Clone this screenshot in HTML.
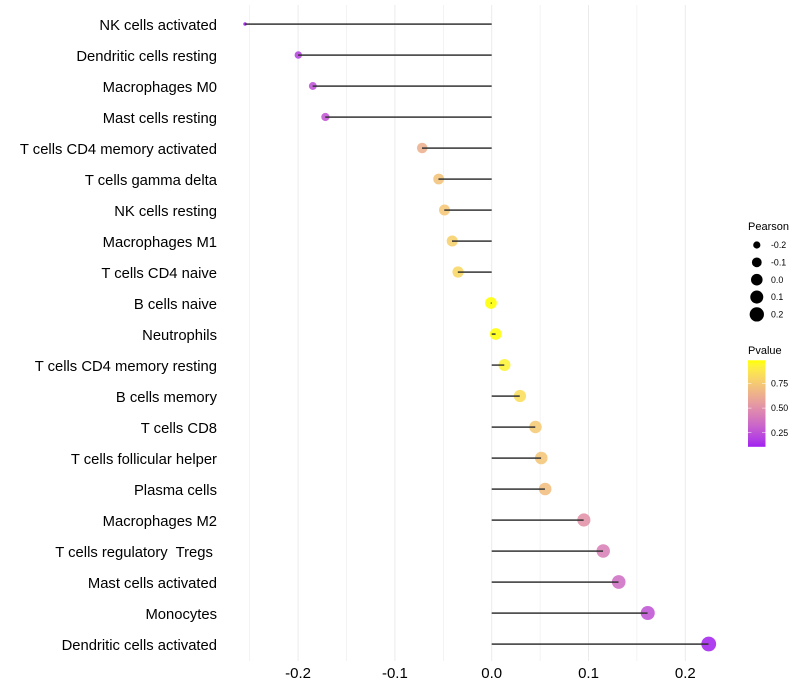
<!DOCTYPE html>
<html>
<head>
<meta charset="utf-8">
<title>Lollipop chart</title>
<style>
html,body{margin:0;padding:0;background:#fff;width:800px;height:700px;overflow:hidden}
svg{display:block;position:absolute;left:0;top:0}
text{font-family:"Liberation Sans",sans-serif;fill:#000}
.lab{position:absolute;font-family:"Liberation Sans",sans-serif;font-size:15px;line-height:20px;height:20px;color:#000;white-space:pre}
.ylab{right:583px;text-align:right;font-size:14.8px}
.xlab{width:60px;text-align:center}
</style>
</head>
<body>
<svg id="chart" width="800" height="700" viewBox="0 0 800 700" xmlns="http://www.w3.org/2000/svg">
  <defs>
    <linearGradient id="pvalue-gradient" x1="0" y1="1" x2="0" y2="0"></linearGradient>
  </defs>
  <g id="grid"></g>
  <g id="points"></g>
  <g id="stems"></g>
  <g id="size-legend">
    <text x="748" y="230" font-size="11">Pearson</text>
  </g>
  <g id="color-legend">
    <text x="748" y="354" font-size="11">Pvalue</text>
    <rect x="748" y="360.3" width="17.5" height="86.5" fill="url(#pvalue-gradient)"></rect>
  </g>
</svg>
<div id="xlabels"></div>
<div id="ylabels"></div>
<script>
const categories = ["NK cells activated","Dendritic cells resting","Macrophages M0","Mast cells resting","T cells CD4 memory activated","T cells gamma delta","NK cells resting","Macrophages M1","T cells CD4 naive","B cells naive","Neutrophils","T cells CD4 memory resting","B cells memory","T cells CD8","T cells follicular helper","Plasma cells","Macrophages M2","T cells regulatory  Tregs ","Mast cells activated","Monocytes","Dendritic cells activated"];
const pearson = [-0.255,-0.2,-0.185,-0.172,-0.072,-0.055,-0.049,-0.041,-0.035,-0.001,0.004,0.013,0.029,0.045,0.051,0.055,0.095,0.115,0.131,0.161,0.224];
const pvalue = [0.11,0.2,0.25,0.27,0.64,0.72,0.74,0.78,0.81,0.99,0.98,0.93,0.84,0.75,0.73,0.7,0.51,0.43,0.36,0.26,0.12];
const xMajorTicks = [-0.2,-0.1,0,0.1,0.2];
const xMinorTicks = [-0.25,-0.15,-0.05,0.05,0.15];
const xTickLabels = ["-0.2","-0.1","0.0","0.1","0.2"];
const sizeLegendValues = [-0.2,-0.1,0,0.1,0.2];
const sizeLegendLabels = ["-0.2","-0.1","0.0","0.1","0.2"];
const colorLegendValues = [0.25,0.5,0.75];
const colorLegendLabels = ["0.25","0.50","0.75"];

const NS = "http://www.w3.org/2000/svg";
function mk(tag, attrs, parent, txt) {
  const el = document.createElementNS(NS, tag);
  for (const k in attrs) el.setAttribute(k, attrs[k]);
  if (txt !== undefined) el.textContent = txt;
  parent.appendChild(el);
  return el;
}
const xScale = v => 491.7 + v * 968;
const yScale = i => 24 + i * 31;
const sizeMin = Math.min(...pearson), sizeMax = Math.max(...pearson);
const rScale = v => 1.8 + 5.6 * Math.sqrt(Math.max(0, (v - sizeMin) / (sizeMax - sizeMin)));
const pTop = 0.985, pBottom = 0.107;

function srgb2lab(c) {
  const f = u => { u /= 255; return u <= 0.04045 ? u / 12.92 : Math.pow((u + 0.055) / 1.055, 2.4); };
  const R = f(c[0]), G = f(c[1]), B = f(c[2]);
  const X = (0.4124 * R + 0.3576 * G + 0.1805 * B) / 0.95047;
  const Y = 0.2126 * R + 0.7152 * G + 0.0722 * B;
  const Z = (0.0193 * R + 0.1192 * G + 0.9505 * B) / 1.08883;
  const g = t => t > 0.008856 ? Math.cbrt(t) : 7.787 * t + 16 / 116;
  return [116 * g(Y) - 16, 500 * (g(X) - g(Y)), 200 * (g(Y) - g(Z))];
}
function lab2srgb(l) {
  const fy = (l[0] + 16) / 116, fx = fy + l[1] / 500, fz = fy - l[2] / 200;
  const h = t => t * t * t > 0.008856 ? t * t * t : (t - 16 / 116) / 7.787;
  const X = h(fx) * 0.95047, Y = h(fy), Z = h(fz) * 1.08883;
  const lin = [3.2406 * X - 1.5372 * Y - 0.4986 * Z, -0.9689 * X + 1.8758 * Y + 0.0415 * Z, 0.0557 * X - 0.204 * Y + 1.057 * Z];
  const out = lin.map(u => {
    u = Math.max(0, Math.min(1, u));
    return Math.round(255 * (u <= 0.0031308 ? 12.92 * u : 1.055 * Math.pow(u, 1 / 2.4) - 0.055));
  });
  return "rgb(" + out.join(",") + ")";
}
const labLow = srgb2lab([160, 32, 240]), labHigh = srgb2lab([255, 255, 0]);
function colorScale(p) {
  const t = Math.max(0, Math.min(1, (p - pBottom) / (pTop - pBottom)));
  return lab2srgb(labLow.map((a, i) => a + (labHigh[i] - a) * t));
}

const grid = document.getElementById("grid");
xMinorTicks.forEach(v => {
  const line = mk("line", {x1: xScale(v), x2: xScale(v), y1: 5, y2: 661, stroke: "#ebebeb", "stroke-width": 0.6}, grid);
  
  
});
xMajorTicks.forEach(v => {
  const line = mk("line", {x1: xScale(v), x2: xScale(v), y1: 5, y2: 661, stroke: "#ebebeb", "stroke-width": 1}, grid);
  
  
});

const xlabels = document.getElementById("xlabels");
xMajorTicks.forEach((v, i) => {
  const t = document.createElement("div");
  t.className = "lab xlab";
  t.style.left = (xScale(v) - 30) + "px";
  t.style.top = "664px";
  t.textContent = xTickLabels[i];
  
  
  xlabels.appendChild(t);
});

const ylabels = document.getElementById("ylabels");
const points = document.getElementById("points");
const stems = document.getElementById("stems");
categories.forEach((c, i) => {
  const t = document.createElement("div");
  t.className = "lab ylab";
  t.style.top = (yScale(i) - 8) + "px";
  t.textContent = c;
  
  
  ylabels.appendChild(t);

  const dot = mk("circle", {cx: xScale(pearson[i]) + 0.2, cy: yScale(i), r: rScale(pearson[i]), fill: colorScale(pvalue[i]), "fill-opacity": 0.88}, points);
  
  

  const stem = mk("line", {x1: xScale(0), x2: xScale(pearson[i]), y1: yScale(i) + 0.1, y2: yScale(i) + 0.1, stroke: "#333", "stroke-width": 1.7, "stroke-opacity": 0.85}, stems);
  
  
});

const sizeLegend = document.getElementById("size-legend");
sizeLegendValues.forEach((v, i) => {
  const y = 245 + i * 17.35;
  const key = mk("circle", {cx: 756.8, cy: y, r: rScale(v) - 0.1, fill: "#000"}, sizeLegend);
  
  
  const lab = mk("text", {x: 771, y: y + 3.1, "font-size": 8.8}, sizeLegend, sizeLegendLabels[i]);
  
  
});

const grad = document.getElementById("pvalue-gradient");
for (let s = 0; s <= 20; s++) {
  mk("stop", {offset: s / 20, "stop-color": colorScale(pBottom + (pTop - pBottom) * s / 20)}, grad);
}
const colorLegend = document.getElementById("color-legend");
const pToY = p => 446.8 - (p - pBottom) / (pTop - pBottom) * 86.5;
colorLegendValues.forEach((p, i) => {
  const y = pToY(p);
  const tickL = mk("line", {x1: 748, x2: 751.5, y1: y, y2: y, stroke: "#fff", "stroke-width": 0.5}, colorLegend);
  
  
  const tickR = mk("line", {x1: 762, x2: 765.5, y1: y, y2: y, stroke: "#fff", "stroke-width": 0.5}, colorLegend);
  
  
  const lab = mk("text", {x: 771, y: y + 3.1, "font-size": 8.8}, colorLegend, colorLegendLabels[i]);
  
  
});
</script>
</body>
</html>
